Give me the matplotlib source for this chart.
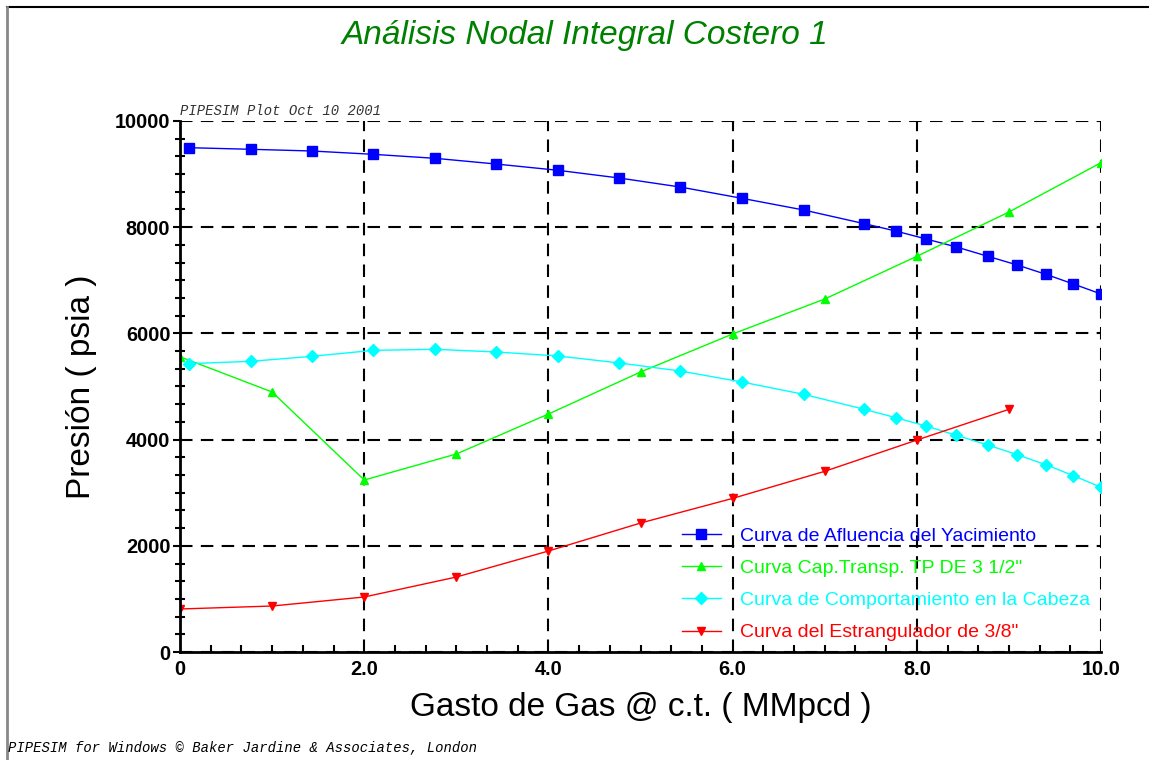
import numpy as np
import matplotlib
matplotlib.use("Agg")
import matplotlib.pyplot as plt
from matplotlib.ticker import MultipleLocator
from matplotlib.lines import Line2D

plt.rcParams['font.family'] = ['Liberation Sans', 'DejaVu Sans']

# Curva de afluencia del yacimiento
x_ipr = [0.1, 0.77, 1.43, 2.1, 2.77, 3.43, 4.1, 4.77, 5.43, 6.1,
         6.77, 7.43, 7.77, 8.1, 8.43, 8.77, 9.09, 9.4, 9.7, 10.0]
p_ipr = [9497, 9467, 9435, 9372, 9297, 9190, 9072, 8926, 8757, 8544,
         8324, 8066, 7928, 7778, 7627, 7452, 7288, 7113, 6930, 6742]

# Curva de capacidad de transporte TP 3 1/2"
x_tp = [0, 1, 2, 3, 4, 5, 6, 7, 8, 9, 10]
p_tp = [5560, 4896, 3239, 3729, 4482, 5273, 5989, 6648, 7452, 8286, 9215]

# Curva de comportamiento en la cabeza
x_cab = x_ipr
p_cab = [5430, 5474, 5568, 5681, 5700, 5650, 5575, 5443, 5292, 5085,
         4853, 4570, 4413, 4256, 4081, 3898, 3716, 3527, 3320, 3102]

# Curva del estrangulador 3/8"
x_est = [0, 1, 2, 3, 4, 5, 6, 7, 8, 9]
p_est = [810, 866, 1036, 1412, 1902, 2429, 2893, 3403, 3992, 4570]

labels = ['Curva de Afluencia del Yacimiento',
          'Curva Cap.Transp. TP DE 3 1/2"',
          'Curva de Comportamiento en la Cabeza',
          'Curva del Estrangulador de 3/8"']
colors = ['#0000ff', '#00ff00', '#00ffff', '#ff0000']

fig = plt.figure(figsize=(11.49, 7.60), dpi=100)
ax = fig.add_axes([0.1567, 0.1421, 0.8016, 0.6987])

ax.plot(x_ipr, p_ipr, '-s', color=colors[0], lw=1.0, ms=7, label=labels[0])
ax.plot(x_tp, p_tp, '-^', color=colors[1], lw=1.0, ms=6, label=labels[1])
ax.plot(x_cab, p_cab, '-D', color=colors[2], lw=1.0, ms=6.5, label=labels[2])
ax.plot(x_est, p_est, '-v', color=colors[3], lw=1.0, ms=6, label=labels[3])

ax.set_xlim(0, 10)
ax.set_ylim(0, 10000)
ax.xaxis.set_minor_locator(MultipleLocator(1 / 3))
ax.yaxis.set_major_locator(MultipleLocator(2000))
ax.yaxis.set_minor_locator(MultipleLocator(2000 / 6))
ax.set_xticks([0, 2, 4, 6, 8, 10])
ax.set_xticklabels(['0', '2.0', '4.0', '6.0', '8.0', '10.0'])
ax.tick_params(axis='both', which='major', labelsize=14.3, width=1.5, length=5, pad=2, color='black')
ax.tick_params(axis='x', which='major', length=0, pad=6)
ax.tick_params(axis='x', which='minor', direction='in', length=5, width=1.5)
ax.tick_params(axis='y', which='minor', direction='inout', length=7, width=1.5)
for t in ax.get_xticklabels() + ax.get_yticklabels():
    t.set_fontweight('bold')

ax.grid(True, which='major', color='black', ls=(0, (6, 4)), lw=1.5)
ax.set_axisbelow(True)
for s in ['left', 'bottom']:
    ax.spines[s].set_linewidth(2)
for s in ['top', 'right']:
    ax.spines[s].set_visible(False)

ax.set_xlabel('Gasto de Gas @ c.t. ( MMpcd )', fontsize=24, labelpad=9)
ax.set_ylabel('Presión ( psia )', fontsize=24, labelpad=13)

leg = ax.legend(loc='lower right', bbox_to_anchor=(1.0, 0.0), frameon=False,
                fontsize=14.0, handlelength=2.0, handletextpad=1.0,
                labelspacing=0.75, labelcolor='linecolor', borderaxespad=0.3,
                borderpad=0.25)

ax.text(0.0, 1.006, 'PIPESIM Plot Oct 10 2001', transform=ax.transAxes,
        family='Liberation Mono', style='italic', fontsize=10, color='#333333',
        va='bottom', ha='left')

fig.text(0.509, 0.953, 'Análisis Nodal Integral Costero 1', ha='center', va='center',
         fontsize=24, style='italic', color='#008000')
fig.text(0.007, 0.016, 'PIPESIM for Windows © Baker Jardine & Associates, London',
         family='Liberation Mono', style='italic', fontsize=10, ha='left', va='center')

# frame lines of the page
fig.add_artist(Line2D([0.006, 1.0], [0.991, 0.991], color='black', lw=1.5,
                      transform=fig.transFigure))
fig.add_artist(Line2D([0.006, 0.006], [0.0, 0.991], color='#888888', lw=2,
                      transform=fig.transFigure))

fig.savefig('out.png', dpi=100)
